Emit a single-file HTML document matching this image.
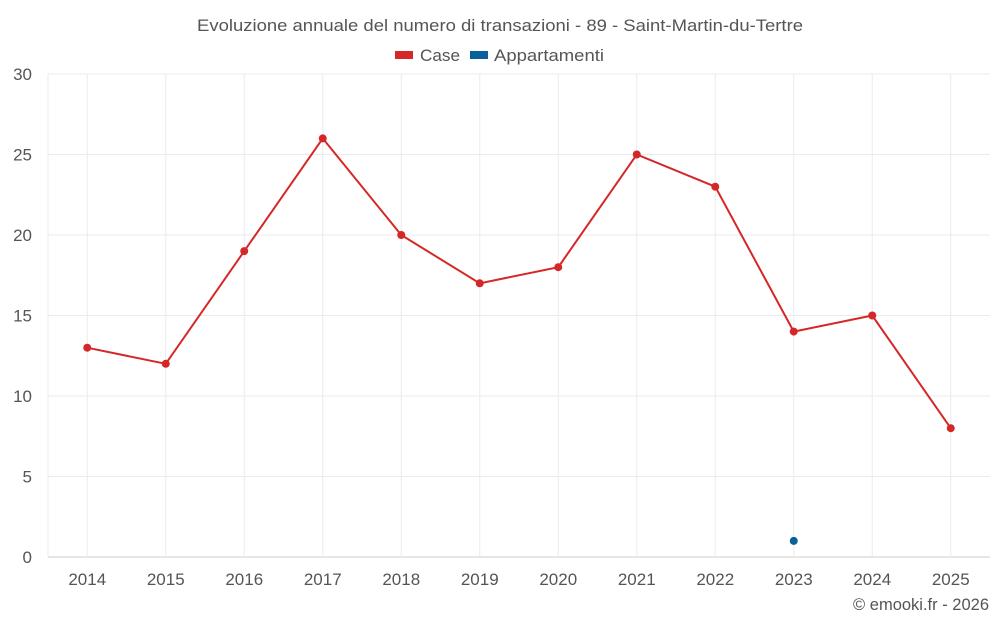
<!DOCTYPE html>
<html><head><meta charset="utf-8"><style>
body{margin:0;background:#fff;}
svg{display:block;font-family:"Liberation Sans",sans-serif;}
</style></head><body>
<svg id="chart" width="1000" height="625">
<text x="197" y="31" textLength="606" lengthAdjust="spacingAndGlyphs" font-size="16.5" fill="#555">Evoluzione annuale del numero di transazioni - 89 - Saint-Martin-du-Tertre</text>
<g>
<g><rect x="395" y="51" width="18" height="8" fill="#d62728"/><text x="420" y="61" textLength="40" lengthAdjust="spacingAndGlyphs" font-size="17" fill="#555">Case</text></g>
<g><rect x="470" y="51" width="18" height="8" fill="#08619b"/><text x="494" y="61" textLength="110" lengthAdjust="spacingAndGlyphs" font-size="17" fill="#555">Appartamenti</text></g>
</g>
<g id="grid"></g><g id="axes"></g><g id="series"></g>
<text x="989" y="610" text-anchor="end" font-size="16.5" fill="#555">© emooki.fr - 2026</text>
</svg>
<script>
const categories=["2014","2015","2016","2017","2018","2019","2020","2021","2022","2023","2024","2025"];
const caseValues=[13,12,19,26,20,17,18,25,23,14,15,8];
const appartamentiValues=[null,null,null,null,null,null,null,null,null,1,null,null];
const yTicks=[0,5,10,15,20,25,30];
const NS="http://www.w3.org/2000/svg";
const L=48,R=990,T=74,B=557,yMax=30;
const bw=(R-L)/categories.length;
const x=i=>L+(i+0.5)*bw;
const y=v=>B-(v/yMax)*(B-T);
function mk(tag,attrs,parent){const e=document.createElementNS(NS,tag);for(const k in attrs)e.setAttribute(k,attrs[k]);parent.appendChild(e);return e;}
const grid=document.getElementById('grid'),axes=document.getElementById('axes'),series=document.getElementById('series');
yTicks.forEach(t=>{
 const l=mk('line',{x1:L,x2:R,y1:y(t),y2:y(t),stroke:t===0?'#ccc':'#ebebeb','stroke-width':1},grid);
 
 
 const tx=mk('text',{x:32,y:y(t)+6,'text-anchor':'end','font-size':17,fill:'#555'},axes);
 tx.textContent=t;
 
 
});
mk('line',{x1:L,x2:L,y1:T,y2:B,stroke:'#ebebeb'},grid);
categories.forEach((c,i)=>{
 const l=mk('line',{x1:x(i),x2:x(i),y1:T,y2:B,stroke:'#ebebeb'},grid);
 
 
 const tx=mk('text',{x:x(i),y:585,'text-anchor':'middle','font-size':17,fill:'#555'},axes);
 tx.textContent=c;
 
 
});
const pts=caseValues.map((v,i)=>x(i)+','+y(v)).join(' ');
const pl=mk('polyline',{points:pts,fill:'none',stroke:'#d62728','stroke-width':2},series);


caseValues.forEach((v,i)=>{
 const c=mk('circle',{cx:x(i),cy:y(v),r:4,fill:'#d62728'},series);
 
 
});
appartamentiValues.forEach((v,i)=>{
 if(v===null)return;
 const c=mk('circle',{cx:x(i),cy:y(v),r:4,fill:'#08619b'},series);
 
 
});
</script>
</body></html>
